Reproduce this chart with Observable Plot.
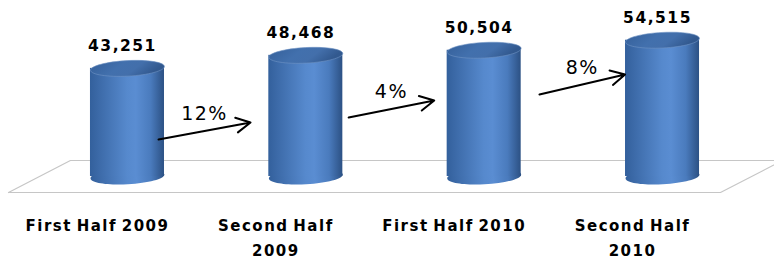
<!DOCTYPE html>
<html>
<head>
<meta charset="utf-8">
<script src="https://cdn.jsdelivr.net/npm/d3@7"></script>
<script src="https://cdn.jsdelivr.net/npm/@observablehq/plot@0.6"></script>
<style>
  html, body { margin: 0; padding: 0; background: #fff; }
  svg text { letter-spacing: 1.5px; word-spacing: -2px; }
</style>
</head>
<body>
<div id="chart"></div>
<script>
// ---- data ----
const categories = ["First Half 2009", "Second Half 2009", "First Half 2010", "Second Half 2010"];
const tickLabels = ["First Half 2009", "Second Half\n2009", "First Half 2010", "Second Half\n2010"];
const values = [43251, 48468, 50504, 54515];
const growthLabels = ["12%", "4%", "8%"];
// arrow endpoints (x in category-index units, y in value units)
const arrowX1 = [0.174, 1.24, 2.31];
const arrowX2 = [0.69, 1.72, 2.79];
const arrowY1 = [14800, 23600, 32800];
const arrowY2 = [21600, 30400, 40800];
// floor parallelogram corners
const floorX = [-0.667, -0.32, 3.673, 3.325, -0.667];
const floorY = [-6400, 6400, 6400, -6400, -6400];

// ---- tables built from arrays ----
const data = categories.map((c, i) => ({i, category: c, value: values[i], tick: tickLabels[i]}));
const arrows = growthLabels.map((g, i) => ({label: g, x1: arrowX1[i], x2: arrowX2[i], y1: arrowY1[i], y2: arrowY2[i]}));
const floor = floorX.map((x, i) => ({x, y: floorY[i]}));

const fmt = d3.format(",");
const barHalf = 0.2075; // half cylinder width in index units
const radius = 37;      // px, same half width

const ellipse = {
  draw(ctx, size) {
    const rx = Math.sqrt(size / Math.PI), ry = rx * 0.21, k = 0.5523;
    ctx.moveTo(rx, 0);
    ctx.bezierCurveTo(rx, ry * k, rx * k, ry, 0, ry);
    ctx.bezierCurveTo(-rx * k, ry, -rx, ry * k, -rx, 0);
    ctx.bezierCurveTo(-rx, -ry * k, -rx * k, -ry, 0, -ry);
    ctx.bezierCurveTo(rx * k, -ry, rx, -ry * k, rx, 0);
    ctx.closePath();
  }
};

const chartSvg = Plot.plot({
  width: 774,
  height: 258,
  marginLeft: 37.8,
  marginRight: 22.8,
  marginTop: 0,
  marginBottom: 82,
  x: {type: "linear", domain: [-0.5, 3.5], axis: null},
  y: {domain: [0, 70400], axis: null},
  style: {background: "#fff", fontFamily: "DejaVu Sans"},
  marks: [
    Plot.line(floor, {x: "x", y: "y", stroke: "#c6c6c6", strokeWidth: 1.2}),
    Plot.dot(data, {x: "i", y: 0, r: radius, symbol: ellipse, fill: "url(#bodyGrad)", rotate: -3}),
    Plot.rect(data, {x1: d => d.i - barHalf, x2: d => d.i + barHalf, y1: 0, y2: "value", fill: "url(#bodyGrad)"}),
    Plot.dot(data, {x: "i", y: "value", r: radius, symbol: ellipse, fill: "url(#topGrad)", rotate: -3,
      stroke: "#6f93c4", strokeWidth: 0.6}),
    Plot.text(data, {x: "i", y: "value", text: d => fmt(d.value), dy: -22, dx: -5,
      fontSize: 15.5, fontWeight: "bold", fontFamily: "DejaVu Sans", fill: "#000"}),
    Plot.arrow(arrows, {x1: "x1", y1: "y1", x2: "x2", y2: "y2", stroke: "#000", strokeWidth: 2,
      headLength: 12, headAngle: 55}),
    Plot.text(arrows, {x: d => (d.x1 + d.x2) / 2, y: d => (d.y1 + d.y2) / 2, text: "label", dy: -17,
      fontSize: 19, fontFamily: "DejaVu Sans", fill: "#000"}),
    Plot.text(data, {x: "i", text: "tick", frameAnchor: "bottom", lineAnchor: "top", dy: 36, dx: -30,
      lineHeight: 1.7, fontSize: 15, fontWeight: "bold", fontFamily: "DejaVu Sans", fill: "#000"})
  ]
});

// gradients for the cylinders
const defs = d3.select(chartSvg).insert("defs", ":first-child");
const bodyGrad = defs.append("linearGradient").attr("id", "bodyGrad").attr("x1", "0").attr("x2", "1").attr("y1", "0").attr("y2", "0");
[["0%", "#33609c"], ["12%", "#3c6aa8"], ["50%", "#5689cd"], ["62%", "#5a8dd2"], ["82%", "#4a7bbd"], ["100%", "#2c5184"]]
  .forEach(([o, c]) => bodyGrad.append("stop").attr("offset", o).attr("stop-color", c));
const topGrad = defs.append("linearGradient").attr("id", "topGrad").attr("x1", "0").attr("x2", "1").attr("y1", "0").attr("y2", "0.3");
[["0%", "#35609a"], ["45%", "#4270ad"], ["70%", "#436fab"], ["100%", "#32598f"]]
  .forEach(([o, c]) => topGrad.append("stop").attr("offset", o).attr("stop-color", c));

document.getElementById("chart").appendChild(chartSvg);
</script>
</body>
</html>
